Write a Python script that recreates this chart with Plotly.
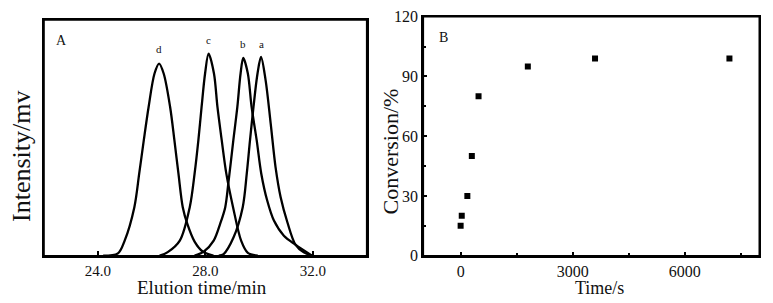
import plotly.graph_objects as go

# ---- Panel A: GPC traces ----
d_x = [24.2, 24.75, 25.0, 25.36, 25.54, 25.71, 25.89, 26.11, 26.28, 26.45, 26.69, 26.85, 27.0, 27.16, 27.33, 27.6, 27.9, 28.3]
d_y = [0.0, 0.01, 0.064, 0.206, 0.348, 0.489, 0.631, 0.773, 0.815, 0.773, 0.631, 0.489, 0.348, 0.206, 0.135, 0.06, 0.018, 0.0]

c_x = [26.3, 26.6, 27.05, 27.42, 27.60, 27.74, 27.86, 27.99, 28.12, 28.32, 28.45, 28.61, 28.78, 29.03, 29.33, 29.58, 29.95]
c_y = [0.0, 0.015, 0.064, 0.206, 0.348, 0.489, 0.631, 0.773, 0.857, 0.773, 0.631, 0.489, 0.348, 0.206, 0.064, 0.012, 0.0]

b_x = [27.6, 27.94, 28.31, 28.55, 28.74, 28.86, 29.04, 29.19, 29.31, 29.41, 29.58, 29.72, 29.91, 30.08, 30.30, 30.55, 30.92, 31.35, 31.97]
b_y = [0.0, 0.017, 0.064, 0.135, 0.206, 0.312, 0.489, 0.631, 0.773, 0.839, 0.773, 0.631, 0.489, 0.348, 0.234, 0.149, 0.085, 0.047, 0.0]

a_x = [28.5, 28.68, 29.05, 29.39, 29.54, 29.66, 29.79, 29.94, 30.07, 30.24, 30.43, 30.61, 30.80, 31.05, 31.35, 31.66, 31.97]
a_y = [0.0, 0.007, 0.078, 0.206, 0.348, 0.489, 0.631, 0.773, 0.843, 0.745, 0.56, 0.376, 0.248, 0.142, 0.047, 0.014, 0.0]

peak_labels = ["d", "c", "b", "a"]
peak_label_x = [26.28, 28.12, 29.41, 30.07]
peak_label_y = [0.842, 0.883, 0.864, 0.864]

a_ticks = [24, 28, 32]

# ---- Panel B: conversion vs time ----
time_s = [0, 30, 180, 300, 480, 1800, 3600, 7200]
conversion = [15, 20, 30, 50, 80, 95, 99, 99]
b_xticks = [0, 3000, 6000]
b_yticks = [0, 30, 60, 90, 120]

FONT = "Liberation Serif, Times New Roman, serif"
TXT = "#111"
W, H = 773, 303

fig = go.Figure()
for xs, ys in [(d_x, d_y), (c_x, c_y), (b_x, b_y), (a_x, a_y)]:
    fig.add_trace(go.Scatter(x=xs, y=ys, mode="lines",
                             line=dict(color="black", width=2.3, shape="spline", smoothing=0.9),
                             xaxis="x", yaxis="y", showlegend=False, hoverinfo="skip"))

fig.add_trace(go.Scatter(x=time_s, y=conversion, mode="markers",
                         marker=dict(symbol="square", size=6, color="black"),
                         xaxis="x2", yaxis="y2", showlegend=False))

axcommon = dict(showline=True, linecolor="#000000", linewidth=2, mirror=True,
                showgrid=False, zeroline=False)

fig.update_layout(
    template="none",
    width=W, height=H, autosize=False,
    margin=dict(l=0, r=0, t=0, b=0),
    paper_bgcolor="white", plot_bgcolor="white",
    font=dict(family=FONT, color=TXT),
    xaxis=dict(domain=[44/W, 366.7/W], range=[22, 34], tickvals=a_ticks,
               tickformat=".1f", ticks="inside", ticklen=5, tickwidth=2,
               tickcolor="#000000", tickfont=dict(size=15, family=FONT, color=TXT),
               anchor="y", **axcommon),
    yaxis=dict(domain=[(H-255.7)/H, (H-20)/H], range=[0, 1], showticklabels=False,
               ticks="", anchor="x", **axcommon),
    xaxis2=dict(domain=[423.3/W, 759.3/W], range=[-1000, 8000], tickvals=b_xticks,
                ticks="inside", ticklen=4, tickwidth=2, tickcolor="#000000",
                minor=dict(ticks="inside", ticklen=3, dtick=1500, tick0=0,
                           tickcolor="#000000", tickwidth=1.5),
                tickfont=dict(size=16, family=FONT, color=TXT),
                anchor="y2", **axcommon),
    yaxis2=dict(domain=[(H-255.7)/H, (H-16.7)/H], range=[0, 120], tickvals=b_yticks,
                ticks="inside", ticklen=4, tickwidth=2, tickcolor="#000000",
                minor=dict(ticks="inside", ticklen=3, dtick=15, tick0=0,
                           tickcolor="#000000", tickwidth=1.5),
                tickfont=dict(size=16, family=FONT, color=TXT),
                anchor="x2", **axcommon),
    shapes=[
        dict(type="rect", xref="x domain", yref="y domain", x0=0, x1=1, y0=0, y1=1,
             line=dict(color="#000000", width=1.6), layer="above"),
        dict(type="rect", xref="x2 domain", yref="y2 domain", x0=0, x1=1, y0=0, y1=1,
             line=dict(color="#000000", width=1.6), layer="above"),
    ],
)

annotations = []
for lab, lx, ly in zip(peak_labels, peak_label_x, peak_label_y):
    annotations.append(dict(x=lx, y=ly, xref="x", yref="y", text=lab, showarrow=False,
                            font=dict(size=11, family=FONT, color=TXT),
                            xanchor="center", yanchor="bottom"))
annotations += [
    dict(x=61.7/W, y=1-40/H, xref="paper", yref="paper", text="A", showarrow=False,
         font=dict(size=14, family=FONT, color=TXT), xanchor="center", yanchor="middle"),
    dict(x=443.3/W, y=1-37.3/H, xref="paper", yref="paper", text="B", showarrow=False,
         font=dict(size=14, family=FONT, color=TXT), xanchor="center", yanchor="middle"),
    dict(x=21/W, y=1-157/H, xref="paper", yref="paper", text="Intensity/mv", showarrow=False,
         textangle=-90, font=dict(size=26, family=FONT, color=TXT),
         xanchor="center", yanchor="middle"),
    dict(x=390/W, y=1-151.5/H, xref="paper", yref="paper", text="Conversion/%", showarrow=False,
         textangle=-90, font=dict(size=22, family=FONT, color=TXT),
         xanchor="center", yanchor="middle"),
    dict(x=202/W, y=1-287/H, xref="paper", yref="paper", text="Elution time/min", showarrow=False,
         font=dict(size=19, family=FONT, color=TXT), xanchor="center", yanchor="middle"),
    dict(x=599/W, y=1-288/H, xref="paper", yref="paper", text="Time/s", showarrow=False,
         font=dict(size=18, family=FONT, color=TXT), xanchor="center", yanchor="middle"),
]
fig.update_layout(annotations=annotations)

fig.write_html("out.html", config={"displayModeBar": False},
               post_script="document.body.style.margin='0';document.body.style.overflow='hidden';")
